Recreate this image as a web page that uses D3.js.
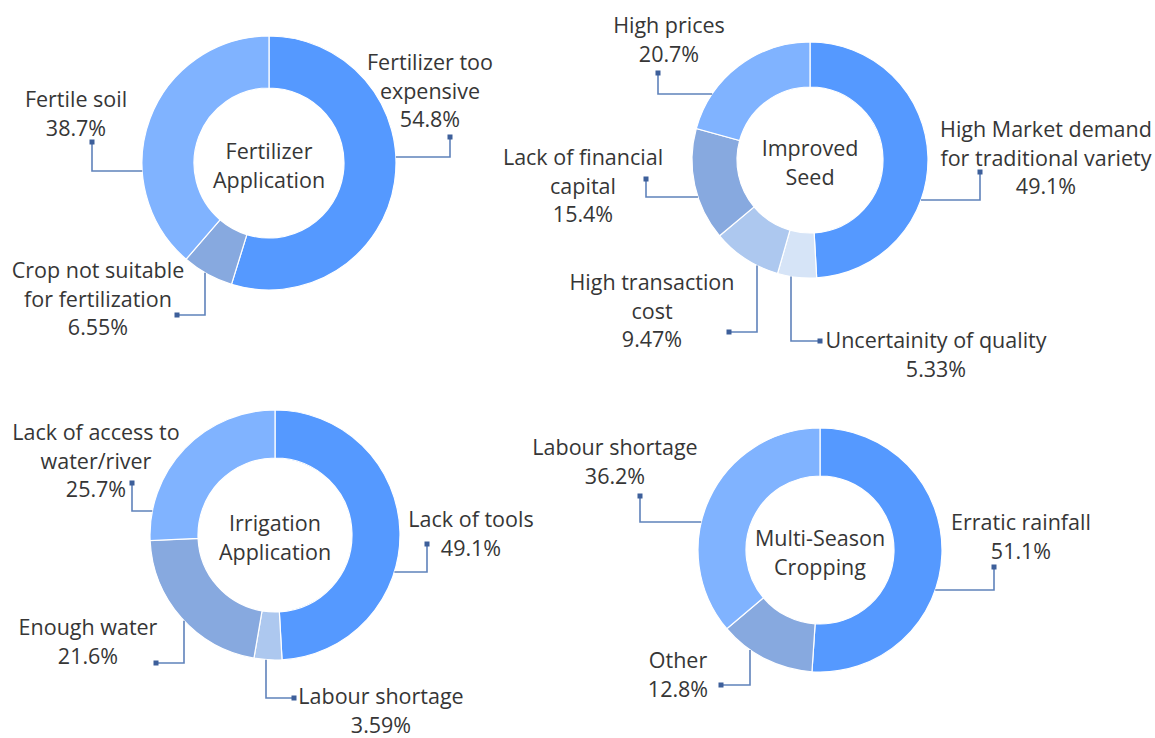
<!DOCTYPE html>
<html>
<head>
<meta charset="utf-8">
<script src="https://cdn.jsdelivr.net/npm/d3@7"></script>
<style>
  html, body { margin: 0; padding: 0; background: #ffffff; }
  svg { display: block; }
  text { font-family: "Open Sans", "Noto Sans", sans-serif; fill: #363636; }
</style>
</head>
<body>
<svg id="chart" width="1155" height="738"></svg>
<script>
// ---------------- DATA ----------------
const fertTitle = ["Fertilizer", "Application"];
const fertCategories = ["Fertilizer too\nexpensive", "Crop not suitable\nfor fertilization", "Fertile soil"];
const fertValues = [54.8, 6.55, 38.7];

const seedTitle = ["Improved", "Seed"];
const seedCategories = ["High Market demand\nfor traditional variety", "Uncertainity of quality", "High transaction\ncost", "Lack of financial\ncapital", "High prices"];
const seedValues = [49.1, 5.33, 9.47, 15.4, 20.7];

const irrTitle = ["Irrigation", "Application"];
const irrCategories = ["Lack of tools", "Labour shortage", "Enough water", "Lack of access to\nwater/river"];
const irrValues = [49.1, 3.59, 21.6, 25.7];

const msTitle = ["Multi-Season", "Cropping"];
const msCategories = ["Erratic rainfall", "Other", "Labour shortage"];
const msValues = [51.1, 12.8, 36.2];

const palette = ["#5599ff", "#80b3ff", "#87a9df", "#adc8ef", "#d6e4f7"];

// ---------------- LAYOUT ----------------
const layouts = [
  { cx: 269, cy: 163, ro: 127, ri: 75, labels: [
      { tx: 430, ty: 70,  anchor: "middle", mk: [450, 137], elbow: "h", at: 157 },
      { tx: 98,  ty: 278, anchor: "middle", mk: [177, 315], elbow: "v", at: 205 },
      { tx: 76,  ty: 107, anchor: "middle", mk: [92, 142],  elbow: "h", at: 171 }
  ]},
  { cx: 810, cy: 160, ro: 118, ri: 73, labels: [
      { tx: 1046, ty: 137, anchor: "middle", mk: [980, 172], elbow: "h", at: 200 },
      { tx: 936,  ty: 348, anchor: "middle", mk: [820, 341], elbow: "v", at: 791 },
      { tx: 652,  ty: 290, anchor: "middle", mk: [729, 332], elbow: "v", at: 757 },
      { tx: 583,  ty: 165, anchor: "middle", mk: [646, 179], elbow: "h", at: 197 },
      { tx: 669,  ty: 33,  anchor: "middle", mk: [658, 73],  elbow: "h", at: 94 }
  ]},
  { cx: 275, cy: 535, ro: 125, ri: 77, labels: [
      { tx: 471, ty: 527, anchor: "middle", mk: [427, 544], elbow: "h", at: 572 },
      { tx: 381, ty: 704, anchor: "middle", mk: [294, 698], elbow: "v", at: 266 },
      { tx: 88,  ty: 635, anchor: "middle", mk: [156, 663], elbow: "v", at: 184 },
      { tx: 96,  ty: 440, anchor: "middle", mk: [132, 483], elbow: "h", at: 511 }
  ]},
  { cx: 820, cy: 550, ro: 122, ri: 74, labels: [
      { tx: 1021, ty: 530, anchor: "middle", mk: [994, 567], elbow: "h", at: 590 },
      { tx: 678,  ty: 668, anchor: "middle", mk: [721, 685], elbow: "v", at: 750 },
      { tx: 615,  ty: 455, anchor: "middle", mk: [640, 496], elbow: "h", at: 522 }
  ]}
];

const charts = [
  { title: fertTitle, cats: fertCategories, vals: fertValues },
  { title: seedTitle, cats: seedCategories, vals: seedValues },
  { title: irrTitle,  cats: irrCategories,  vals: irrValues },
  { title: msTitle,   cats: msCategories,   vals: msValues }
];

// ---------------- DRAW ----------------
const svg = d3.select("#chart");
const fmt = d3.format(".3r");
const FS = 21.5, LH = 28.5;
const lineColor = "#5f82bb", markColor = "#3d5f9a";

charts.forEach((ch, ci) => {
  const L = layouts[ci];
  const order = ch.vals.map((v, i) => i).sort((a, b) => ch.vals[b] - ch.vals[a]);
  const color = d3.scaleOrdinal().domain(order).range(palette);

  const pie = d3.pie().sort(null).value(d => d)(ch.vals);
  const arc = d3.arc().innerRadius(L.ri).outerRadius(L.ro);

  const g = svg.append("g").attr("transform", `translate(${L.cx},${L.cy})`);
  g.selectAll("path.slice").data(pie).join("path")
    .attr("class", "slice")
    .attr("d", arc)
    .attr("fill", (d, i) => color(i))
    .attr("stroke", "#ffffff")
    .attr("stroke-width", 1.2);

  g.append("text")
    .attr("text-anchor", "middle")
    .attr("font-size", FS)
    .selectAll("tspan").data(ch.title).join("tspan")
    .attr("x", 0)
    .attr("y", (d, i) => -4 + i * 29)
    .text(d => d);

  ch.vals.forEach((v, i) => {
    const lb = L.labels[i];
    const [mx, my] = lb.mk;
    let pts;
    if (lb.elbow === "h") {
      const dy = lb.at - L.cy;
      const dx = Math.sqrt(Math.max(0, L.ro * L.ro - dy * dy));
      const rx = mx > L.cx ? L.cx + dx : L.cx - dx;
      pts = [[mx, my], [mx, lb.at], [rx, lb.at]];
    } else {
      const dx = lb.at - L.cx;
      const dy = Math.sqrt(Math.max(0, L.ro * L.ro - dx * dx));
      pts = [[mx, my], [lb.at, my], [lb.at, L.cy + dy]];
    }
    svg.append("path")
      .attr("d", d3.line()(pts))
      .attr("fill", "none")
      .attr("stroke", lineColor)
      .attr("stroke-width", 1.6);
    svg.append("rect")
      .attr("x", mx - 2.5).attr("y", my - 2.5)
      .attr("width", 5).attr("height", 5)
      .attr("fill", markColor);

    const lines = ch.cats[i].split("\n").concat([fmt(v) + "%"]);
    const t = svg.append("text")
      .attr("font-size", FS)
      .attr("text-anchor", lb.anchor);
    t.selectAll("tspan").data(lines).join("tspan")
      .attr("x", lb.tx)
      .attr("y", (d, k) => lb.ty + k * LH)
      .text(d => d);
  });
});
</script>
</body>
</html>
